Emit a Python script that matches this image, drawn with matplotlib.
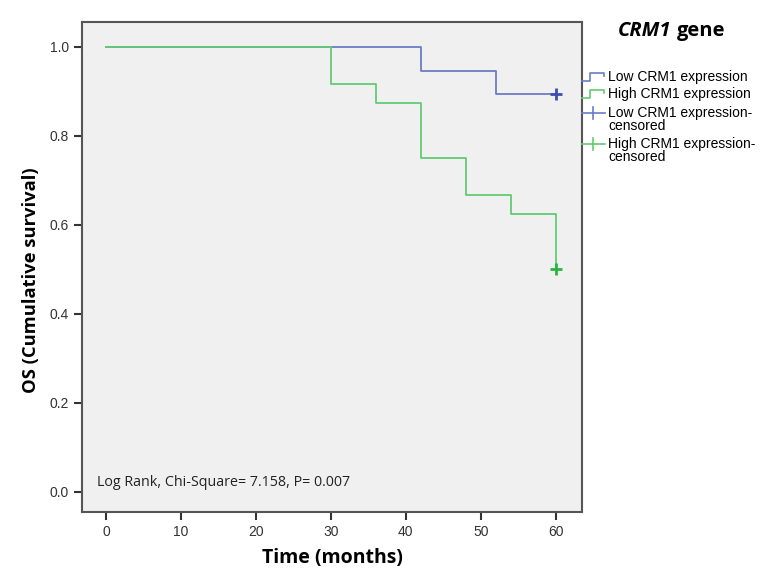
import numpy as np
import matplotlib.pyplot as plt
from matplotlib.lines import Line2D

# Kaplan-Meier step data
low_times = [0, 42, 52, 60]
low_surv = [1.0, 0.947, 0.895, 0.895]
high_times = [0, 30, 36, 42, 48, 54, 60]
high_surv = [1.0, 0.917, 0.875, 0.75, 0.667, 0.625, 0.5]
low_cens_t = [60]
low_cens_s = [0.895]
high_cens_t = [60]
high_cens_s = [0.5]

x_ticks = [0, 10, 20, 30, 40, 50, 60]
y_ticks = [0.0, 0.2, 0.4, 0.6, 0.8, 1.0]
legend_labels = ["Low CRM1 expression", "High CRM1 expression",
                 "Low CRM1 expression-\ncensored", "High CRM1 expression-\ncensored"]
stat_text = "Log Rank, Chi-Square= 7.158, P= 0.007"

blue = "#6a7cc6"
blue_dark = "#3b4fb0"
green = "#62cc72"
green_dark = "#2db33f"

W, H = 781, 577
fig = plt.figure(figsize=(W / 100, H / 100), dpi=100)
ax = fig.add_axes([82 / W, 1 - 512 / H, 500 / W, 490 / H])
ax.set_facecolor("#f0f0f0")

ax.step(low_times, low_surv, where="post", color=blue, lw=1.3, zorder=2)
ax.step(high_times, high_surv, where="post", color=green, lw=1.3, zorder=3)
ax.plot(low_cens_t, low_cens_s, "+", color=blue_dark, ms=8, mew=2, zorder=4)
ax.plot(high_cens_t, high_cens_s, "+", color=green_dark, ms=8, mew=2, zorder=4)

ax.set_xlim(-3.2, 63.5)
ax.set_ylim(-0.045, 1.056)
ax.set_xticks(x_ticks)
ax.set_yticks(y_ticks)
ax.set_yticklabels([f"{v:.1f}" for v in y_ticks])
ax.tick_params(direction="out", length=6, width=1.5, color="#333333",
               labelsize=10, labelcolor="#333333")
for lab in ax.get_xticklabels() + ax.get_yticklabels():
    lab.set_family("Liberation Sans")
for sp in ax.spines.values():
    sp.set_color("#555555")
    sp.set_linewidth(1.5)

ax.set_xlabel("Time (months)", family="Open Sans", fontweight="bold", fontsize=14, labelpad=6)
ax.set_ylabel("OS (Cumulative survival)", family="Open Sans", fontweight="bold", fontsize=13.2)
ax.yaxis.set_label_coords(-0.083, 0.473)
ax.text(0.03, 0.061, stat_text, transform=ax.transAxes, family="Open Sans",
        fontsize=10.3, color="#222222", va="center")

# legend drawn in figure pixels
def fx(px):
    return px / W

def fy(py):
    return 1 - py / H

fig.text(fx(618), fy(31), "CRM1", family="Open Sans", fontweight="bold",
         style="italic", fontsize=14.5, va="center")
fig.text(fx(677), fy(31), "gene", family="Open Sans", fontweight="bold",
         fontsize=14.5, va="center")

leg_y = [77, 94, 113, 144]
leg_cols = [blue, green, blue, green]
for i, (yy, lab, c) in enumerate(zip(leg_y, legend_labels, leg_cols)):
    if i < 2:
        xs = [582, 590, 590, 604, 604]
        ys = [yy + 4, yy + 4, yy - 4, yy - 4, yy - 1]
        fig.add_artist(Line2D([fx(x) for x in xs], [fy(y) for y in ys], color=c, lw=1.2))
    else:
        fig.add_artist(Line2D([fx(582), fx(605)], [fy(yy), fy(yy)], color=c, lw=1.2))
        fig.add_artist(Line2D([fx(593), fx(593)], [fy(yy - 6), fy(yy + 6)], color=c, lw=1.2))
    fig.text(fx(608), fy(yy - 7), lab, family="Liberation Sans", fontsize=10,
             va="top", linespacing=0.95)

fig.savefig("out.png", dpi=100)
